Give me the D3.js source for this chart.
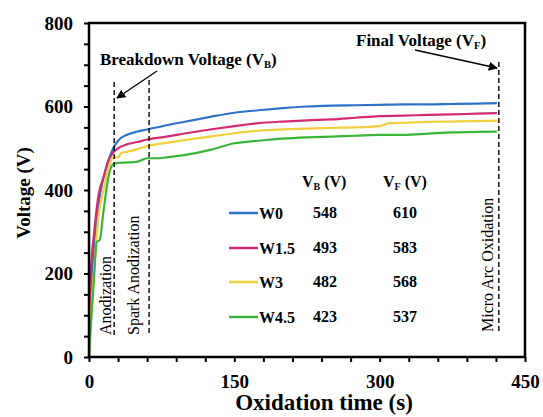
<!DOCTYPE html>
<html><head><meta charset="utf-8">
<script src="https://cdn.jsdelivr.net/npm/d3@7"></script>
<style>body{margin:0;background:#fff}svg{display:block}</style>
</head><body>
<svg id="c" width="543" height="417"></svg>
<script>
// ---- data ----
const seriesNames = ["W0", "W1.5", "W3", "W4.5"];
const seriesColors = ["#2f72c9", "#d42a72", "#f2cf3c", "#3cb43c"];
const vbValues = [548, 493, 482, 423];
const vfValues = [610, 583, 568, 537];

const tW0 = [0, 2, 5, 10, 15, 20, 25, 30, 40, 50, 60, 80, 100, 125, 150, 175, 200, 225, 250, 275, 300, 325, 350, 375, 400, 421];
const vW0 = [0, 150, 260, 370, 430, 470, 500, 518, 533, 540, 545, 555, 564, 575, 585, 591, 596, 600, 602, 603, 604, 605, 605, 606, 607, 608];

const tW15 = [0, 2, 5, 10, 15, 20, 25, 30, 40, 50, 60, 80, 100, 125, 150, 175, 200, 225, 250, 275, 300, 325, 350, 375, 400, 421];
const vW15 = [0, 210, 290, 390, 430, 470, 490, 500, 510, 515, 521, 528, 536, 545, 553, 560, 564, 567, 569, 573, 577, 578, 580, 581, 583, 584];

const tW3 = [0, 2, 5, 10, 15, 20, 25, 30, 33, 40, 50, 60, 80, 100, 125, 150, 175, 200, 225, 250, 275, 300, 310, 325, 350, 375, 400, 421];
const vW3 = [0, 100, 200, 340, 400, 450, 478, 478, 488, 492, 498, 505, 513, 520, 528, 536, 542, 545, 547, 549, 550, 553, 560, 561, 563, 564, 565, 566];

const tW45 = [0, 2, 5, 8, 11, 15, 20, 25, 30, 40, 50, 60, 70, 80, 100, 125, 150, 175, 200, 225, 250, 275, 300, 325, 350, 375, 400, 421];
const vW45 = [0, 80, 180, 276, 280, 350, 430, 462, 465, 466, 468, 476, 476, 478, 484, 496, 512, 518, 523, 526, 528, 530, 532, 532, 535, 538, 539, 540];

const seriesTimes = [tW0, tW15, tW3, tW45];
const seriesValues = [vW0, vW15, vW3, vW45];

const xTicks = [0, 150, 300, 450];
const yTicks = [0, 200, 400, 600, 800];
const stageTimes = [26, 62, 423];
const stageLabels = ["Anodization", "Spark Anodization", "Micro Arc Oxidation"];

// ---- layout ----
const svg = d3.select("#c");
const L = 89, R = 525, T = 23, B = 357;
const x = d3.scaleLinear().domain([0, 450]).range([L, R]);
const y = d3.scaleLinear().domain([0, 800]).range([B, T]);
const FONT = "'Liberation Serif','Times New Roman',serif";

// curves
const line = d3.line().x(d => x(d[0])).y(d => y(d[1])).curve(d3.curveMonotoneX);
seriesNames.forEach((n, i) => {
  const pts = seriesTimes[i].map((t, j) => [t, seriesValues[i][j]]);
  svg.append("path").datum(pts).attr("d", line)
    .attr("fill", "none").attr("stroke", seriesColors[i]).attr("stroke-width", 2.2)
    .attr("stroke-linejoin", "round");
});

// frame
svg.append("rect").attr("x", L).attr("y", T).attr("width", R - L).attr("height", B - T)
  .attr("fill", "none").attr("stroke", "#000").attr("stroke-width", 2.5);

// axes
const xAxis = d3.axisBottom(x).tickValues(d3.range(0, 451, 30)).tickSize(5).tickFormat(d => xTicks.includes(d) ? d : "");
const gx = svg.append("g").attr("transform", `translate(0,${B})`).call(xAxis);
const yAxis = d3.axisLeft(y).tickValues(d3.range(0, 801, 50)).tickSize(5).tickFormat(d => yTicks.includes(d) ? d : "");
const gy = svg.append("g").attr("transform", `translate(${L},0)`).call(yAxis);
[gx, gy].forEach(g => {
  g.select(".domain").remove();
  g.selectAll(".tick line").attr("stroke", "#000").attr("stroke-width", 2);
  g.selectAll(".tick text").attr("font-family", FONT).attr("font-weight", "bold")
    .attr("font-size", 19).attr("fill", "#000");
});
gx.selectAll(".tick text").attr("dy", "1.2em");
gy.selectAll(".tick text").attr("dx", "-8px");

// axis titles
svg.append("text").attr("x", 324).attr("y", 410).attr("text-anchor", "middle")
  .attr("font-family", FONT).attr("font-weight", "bold").attr("font-size", 23)
  .text("Oxidation time (s)");
svg.append("text").attr("transform", "translate(30,193) rotate(-90)").attr("text-anchor", "middle")
  .attr("font-family", FONT).attr("font-weight", "bold").attr("font-size", 19)
  .text("Voltage (V)");

// stage dashed lines
const dashTop = [82, 80, 62];
const dashBot = [335, 335, 332];
stageTimes.forEach((t, i) => {
  svg.append("line").attr("x1", x(t)).attr("x2", x(t)).attr("y1", dashTop[i]).attr("y2", dashBot[i])
    .attr("stroke", "#000").attr("stroke-width", 1.4).attr("stroke-dasharray", "5,3");
});
// stage labels
const labelX = [110.5, 139, 493];
const labelBottom = [335, 335, 332];
stageLabels.forEach((s, i) => {
  svg.append("text").attr("transform", `translate(${labelX[i]},${labelBottom[i]}) rotate(-90)`)
    .attr("font-family", FONT).attr("font-size", 16).attr("fill", "#000").text(s);
});

// annotations
svg.append("defs").append("marker").attr("id", "ah").attr("viewBox", "0 0 10 10")
  .attr("refX", 9).attr("refY", 5).attr("markerWidth", 7).attr("markerHeight", 7)
  .attr("orient", "auto").append("path").attr("d", "M0,0L10,5L0,10z").attr("fill", "#000");

const bt = svg.append("text").attr("x", 100).attr("y", 65)
  .attr("font-family", FONT).attr("font-weight", "bold").attr("font-size", 17);
bt.append("tspan").text("Breakdown Voltage (V");
bt.append("tspan").attr("font-size", 10.5).attr("dy", 3).text("B");
bt.append("tspan").attr("dy", -3).text(")");
svg.append("line").attr("x1", 157).attr("y1", 71).attr("x2", 117).attr("y2", 98)
  .attr("stroke", "#000").attr("stroke-width", 1.3).attr("marker-end", "url(#ah)");

const ft = svg.append("text").attr("x", 356).attr("y", 46)
  .attr("font-family", FONT).attr("font-weight", "bold").attr("font-size", 17);
ft.append("tspan").text("Final Voltage (V");
ft.append("tspan").attr("font-size", 10.5).attr("dy", 3).text("F");
ft.append("tspan").attr("dy", -3).text(")");
svg.append("line").attr("x1", 415).attr("y1", 50).attr("x2", 497).attr("y2", 68)
  .attr("stroke", "#000").attr("stroke-width", 1.3).attr("marker-end", "url(#ah)");

// legend table
const hdr = [["V", "B", " (V)", 302], ["V", "F", " (V)", 383]];
hdr.forEach(h => {
  const t = svg.append("text").attr("x", h[3]).attr("y", 187)
    .attr("font-family", FONT).attr("font-weight", "bold").attr("font-size", 16);
  t.append("tspan").text(h[0]);
  t.append("tspan").attr("font-size", 10).attr("dy", 3).text(h[1]);
  t.append("tspan").attr("dy", -3).text(h[2]);
});
const rowY = [213, 248, 282, 317];
seriesNames.forEach((n, i) => {
  svg.append("line").attr("x1", 229).attr("x2", 258).attr("y1", rowY[i]).attr("y2", rowY[i])
    .attr("stroke", seriesColors[i]).attr("stroke-width", 2.5);
  const g = svg.append("g").attr("font-family", FONT).attr("font-weight", "bold").attr("font-size", 16);
  g.append("text").attr("x", 259).attr("y", rowY[i] + 6).text(n);
  g.append("text").attr("x", 325).attr("y", rowY[i] + 5).attr("text-anchor", "middle").text(vbValues[i]);
  g.append("text").attr("x", 405).attr("y", rowY[i] + 5).attr("text-anchor", "middle").text(vfValues[i]);
});
</script>
</body></html>
